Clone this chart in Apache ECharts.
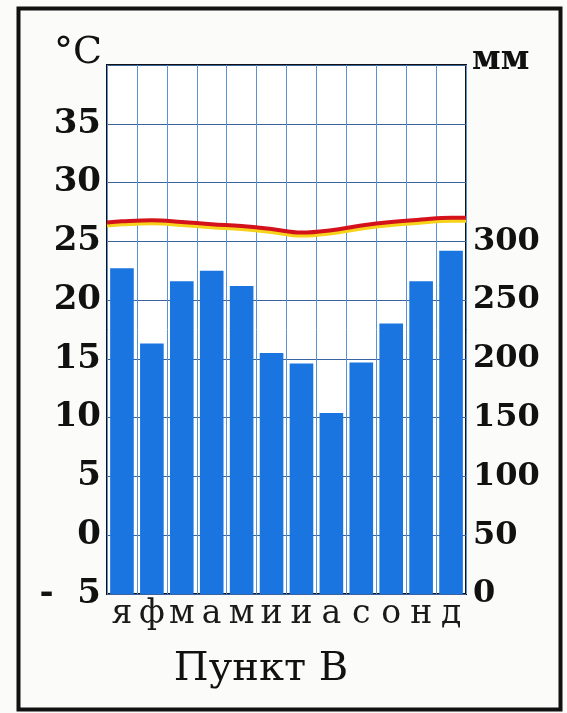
<!DOCTYPE html>
<html>
<head>
<meta charset="utf-8">
<script src="https://cdn.jsdelivr.net/npm/echarts@6/dist/echarts.min.js"></script>
<style>
html,body{margin:0;padding:0;background:#fbfbfa;}
#chart{width:567px;height:713px;}
</style>
</head>
<body>
<div id="chart"></div>
<script>
// Data
const months = ['я','ф','м','а','м','и','и','а','с','о','н','д'];
const precipitation = [277, 213, 266, 275, 262, 205, 196, 154, 197, 230, 266, 292]; // mm
const temperature = [26.7, 26.8, 26.65, 26.45, 26.3, 26.05, 25.75, 25.95, 26.35, 26.65, 26.85, 27.0]; // °C
const tempStartEdge = 26.6;
const tempEndEdge = 27.0;
const tempTicks = [-5, 0, 5, 10, 15, 20, 25, 30, 35];
const mmTicks = [0, 50, 100, 150, 200, 250, 300];
const title = 'Пункт В';

const linePoints = [[0, tempStartEdge]]
  .concat(temperature.map((v, i) => [i + 0.5, v]))
  .concat([[months.length, tempEndEdge]]);

const serif = 'DejaVu Serif';
const chart = echarts.init(document.getElementById('chart'));
chart.setOption({
  backgroundColor: '#fbfbfa',
  animation: false,
  grid: {
    left: 107, top: 65, right: 101, bottom: 119,
    show: true, backgroundColor: '#ffffff', borderColor: '#111', borderWidth: 2
  },
  xAxis: [{
    type: 'category',
    data: months,
    boundaryGap: true,
    axisLine: { show: false },
    axisTick: { show: false },
    axisLabel: { color: '#1a1a1a', fontFamily: serif, fontSize: 33, margin: 4, interval: 0 },
    splitLine: { show: true, interval: 0, lineStyle: { color: '#5a92d2', width: 1 } }
  }, {
    type: 'value', min: 0, max: months.length, show: false
  }],
  yAxis: [{
    type: 'value', min: -5, max: 40, interval: 5,
    axisLine: { show: false }, axisTick: { show: false },
    axisLabel: {
      color: '#111', fontFamily: serif, fontWeight: 'bold', fontSize: 34, margin: 6,
      formatter: v => tempTicks.indexOf(v) < 0 ? '' : (v < 0 ? '-  ' + Math.abs(v) : String(v))
    },
    splitLine: { show: true, lineStyle: { color: '#3a63a0', width: 1 } }
  }, {
    type: 'value', min: 0, max: 450, interval: 50, position: 'right',
    axisLine: { show: false }, axisTick: { show: false },
    axisLabel: {
      color: '#111', fontFamily: serif, fontWeight: 'bold', fontSize: 32, margin: 7,
      formatter: v => mmTicks.indexOf(v) < 0 ? '' : String(v)
    },
    splitLine: { show: false }
  }],
  series: [{
    type: 'bar',
    xAxisIndex: 0, yAxisIndex: 1,
    data: precipitation,
    barCategoryGap: '21%',
    itemStyle: { color: '#1b75e0' },
    z: 2
  }, {
    type: 'line',
    xAxisIndex: 1, yAxisIndex: 0,
    data: linePoints,
    smooth: 0.4,
    symbol: 'none',
    lineStyle: { color: '#d4121c', width: 4, shadowColor: '#f7d21a', shadowBlur: 0, shadowOffsetY: 3 },
    z: 3
  }],
  graphic: [
    { type: 'rect', shape: { x: 18.5, y: 8.5, width: 542, height: 701 }, style: { fill: 'none', stroke: '#111', lineWidth: 4 }, silent: true },
    { type: 'text', left: 54, top: 34, style: { text: '°C', font: 'normal 38px "DejaVu Serif"', fill: '#111' } },
    { type: 'text', left: 472, top: 44, style: { text: 'мм', font: 'bold 33px "DejaVu Serif"', fill: '#111' } },
    { type: 'text', x: 261, y: 670, style: { text: title, font: 'normal 40px "DejaVu Serif"', fill: '#111', textAlign: 'center', textVerticalAlign: 'middle' } }
  ]
});
</script>
</body>
</html>
